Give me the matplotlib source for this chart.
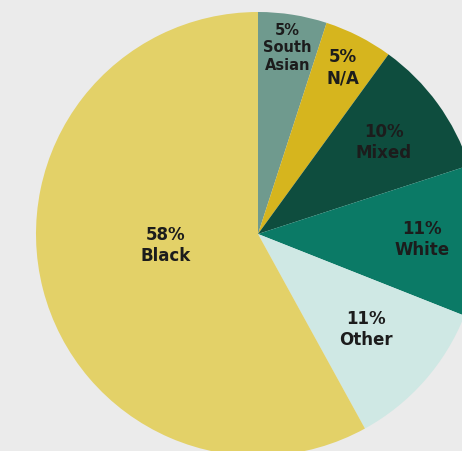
import numpy as np
import matplotlib.pyplot as plt

# ethnicity breakdown, clockwise from 12 o'clock
groups = ["South\nAsian", "N/A", "Mixed", "White", "Other", "Black"]
shares = [5, 5, 10, 11, 11, 58]
colors = ["#6f9a8e", "#d6b51e", "#0e4d3e", "#0b7a66", "#cfe8e4", "#e3d168"]

# label placement: fraction of radius, angular nudge (deg), font size
label_dist = [0.85, 0.84, 0.70, 0.74, 0.65, 0.42]
label_shift = [0, 0, 0, 0, 0, -7.5]
label_size = [10.5, 12, 12, 12, 12, 12]

W, H = 462, 451
fig = plt.figure(figsize=(W / 100, H / 100), dpi=100, facecolor="#ebebeb")
ax = fig.add_axes([0, 0, 1, 1])
ax.set_facecolor("#ebebeb")

cx, cy, r = 258, H - 234, 222
wedges, _ = ax.pie(shares, colors=colors, startangle=90, counterclock=False,
                   center=(cx, cy), radius=r,
                   wedgeprops=dict(linewidth=0))

for w, name, pct, d, sh, fs in zip(wedges, groups, shares, label_dist,
                                   label_shift, label_size):
    mid = np.deg2rad((w.theta1 + w.theta2) / 2 + sh)
    x = cx + d * r * np.cos(mid)
    y = cy + d * r * np.sin(mid)
    ax.text(x, y, f"{pct}%\n{name}", ha="center", va="center",
            fontsize=fs, fontweight="bold", color="#1c1c1c",
            family="DejaVu Sans", linespacing=1.2)

ax.set_xlim(0, W)
ax.set_ylim(0, H)
ax.set_aspect("equal")
ax.axis("off")

plt.savefig("out.png", dpi=100, facecolor=fig.get_facecolor())
